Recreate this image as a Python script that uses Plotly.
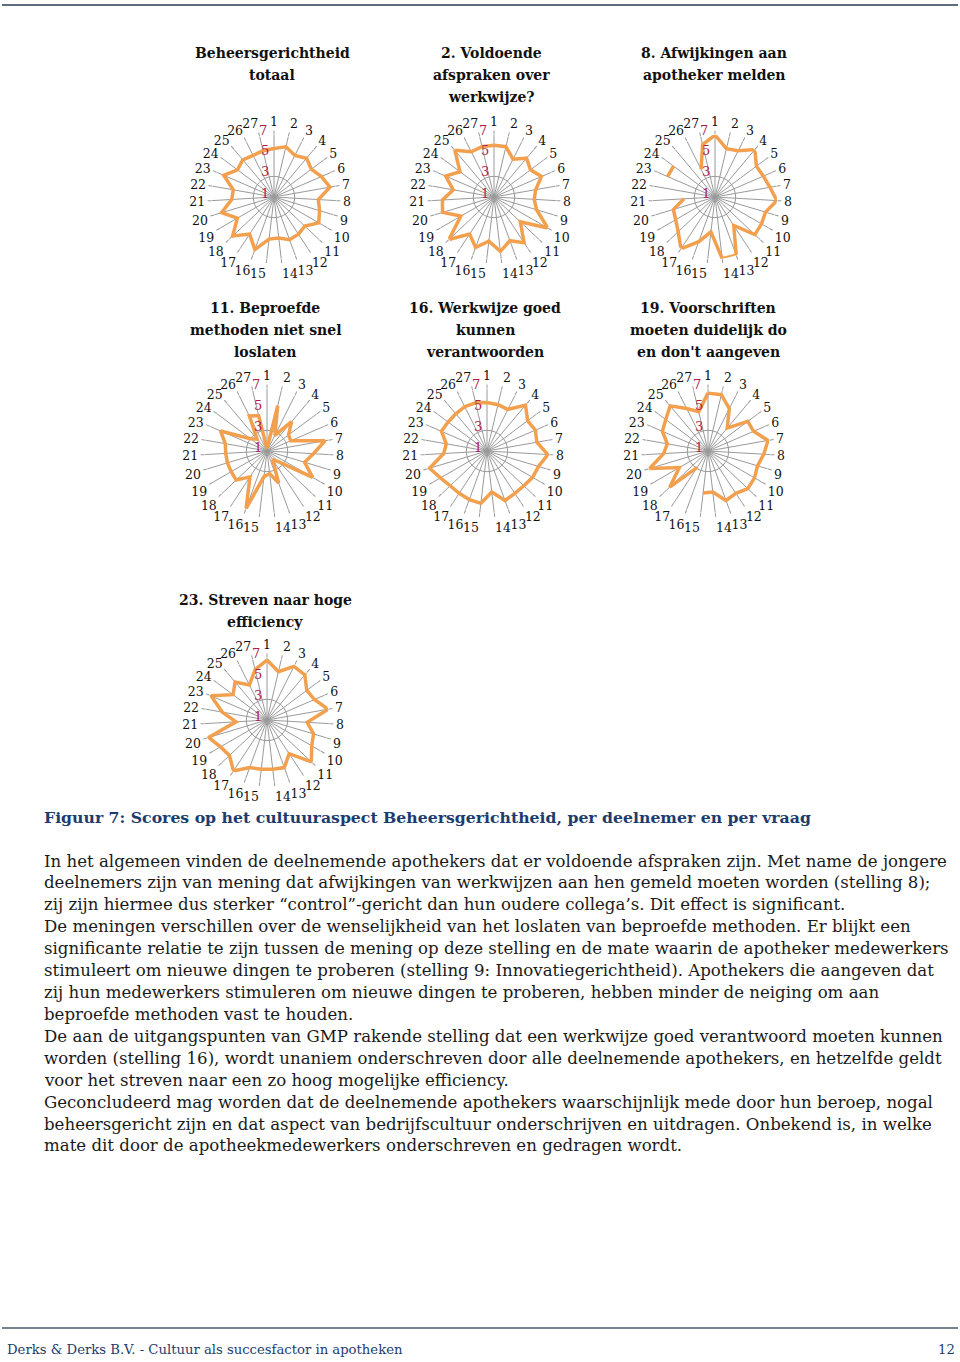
import plotly.graph_objects as go

W, H = 960, 1362

spokes = [str(i) for i in range(1, 28)]
radial_labels = ["1", "3", "5", "7"]

titles = [
    ["Beheersgerichtheid", "totaal"],
    ["2. Voldoende", "afspraken over", "werkwijze?"],
    ["8. Afwijkingen aan", "apotheker melden"],
    ["11. Beproefde", "methoden niet snel", "loslaten"],
    ["16. Werkwijze goed", "kunnen", "verantwoorden"],
    ["19. Voorschriften", "moeten duidelijk do", "en don't aangeven"],
    ["23. Streven naar hoge", "efficiency"],
]

totaal = [5.7, 6.0, 5.5, 5.9, 5.5, 6.0, 6.5, 5.3, 5.6, 6.0, 5.1, 5.3, 5.4, 5.0,
          5.1, 6.4, 5.3, 6.5, 5.1, 6.3, 5.1, 5.0, 6.3, 5.4, 5.7, 5.5, 5.6]
vraag2 = [6.0, 6.0, 5.1, 5.9, 5.4, 6.0, 5.1, 4.9, 5.3, 7.0, 4.5, 6.3, 5.5, 6.3,
          5.3, 6.2, 5.3, 7.0, 4.7, 6.2, 6.0, 5.0, 6.1, 5.1, 6.9, 5.9, 6.0]
vraag8 = [7.0, 5.8, 6.0, 7.0, 6.0, 6.1, 6.4, 7.0, 6.1, 6.2, 6.3, 4.3, 7.0, 7.0,
          4.4, 5.6, 7.0, 5.9, 5.4, 5.2, 4.0, None, 6.0, 6.0, None, 4.0, 6.2]
vraag11 = [1.2, 5.5, 2.7, 4.7, 3.6, 3.5, 6.7, 5.5, 4.8, 6.1, 2.5, 2.0, 4.3, 3.2,
           3.5, 6.9, 4.0, 5.1, 5.0, 5.0, 5.0, 5.1, 5.9, 3.0, 2.5, 4.8, 4.5]
vraag16 = [5.7, 5.6, 5.5, 6.8, 5.9, 6.1, 5.9, 6.9, 6.2, 6.1, 5.9, 5.9, 6.1, 5.0,
           6.1, 6.0, 5.9, 5.9, 6.2, 6.8, 5.2, 5.0, 5.8, 5.7, 5.7, 5.8, 5.8]
vraag19 = [6.6, 6.6, 5.6, 3.9, 5.8, 5.8, 6.9, 6.4, 6.0, 6.2, 6.3, 5.9, 6.1, 5.0,
           5.1, None, 2.9, 6.1, 4.2, 6.9, 5.3, 5.0, 5.8, 6.1, 6.7, 5.6, 4.9]
vraag23 = [6.8, 5.8, 6.8, 6.7, 5.8, 6.0, 7.0, 4.9, 5.7, 6.0, 6.9, 4.9, 5.9, 5.8,
           5.8, 5.9, 6.9, 6.0, 6.2, 6.9, 4.0, 5.4, 6.9, 5.1, 5.8, 4.8, 6.0]

series = [totaal, vraag2, vraag8, vraag11, vraag16, vraag19, vraag23]

caption = "Figuur 7: Scores op het cultuuraspect Beheersgerichtheid, per deelnemer en per vraag"
body = [
    "In het algemeen vinden de deelnemende apothekers dat er voldoende afspraken zijn. Met name de jongere",
    "deelnemers zijn van mening dat afwijkingen van werkwijzen aan hen gemeld moeten worden (stelling 8);",
    "zij zijn hiermee dus sterker \u201ccontrol\u201d-gericht dan hun oudere collega\u2019s. Dit effect is significant.",
    "De meningen verschillen over de wenselijkheid van het loslaten van beproefde methoden. Er blijkt een",
    "significante relatie te zijn tussen de mening op deze stelling en de mate waarin de apotheker medewerkers",
    "stimuleert om nieuwe dingen te proberen (stelling 9: Innovatiegerichtheid). Apothekers die aangeven dat",
    "zij hun medewerkers stimuleren om nieuwe dingen te proberen, hebben minder de neiging om aan",
    "beproefde methoden vast te houden.",
    "De aan de uitgangspunten van GMP rakende stelling dat een werkwijze goed verantwoord moeten kunnen",
    "worden (stelling 16), wordt unaniem onderschreven door alle deelnemende apothekers, en hetzelfde geldt",
    "voor het streven naar een zo hoog mogelijke efficiency.",
    "Geconcludeerd mag worden dat de deelnemende apothekers waarschijnlijk mede door hun beroep, nogal",
    "beheersgericht zijn en dat aspect van bedrijfscultuur onderschrijven en uitdragen. Onbekend is, in welke",
    "mate dit door de apotheekmedewerkers onderschreven en gedragen wordt.",
]
footer_left = "Derks & Derks B.V. - Cultuur als succesfactor in apotheken"
footer_right = "12"

# layout geometry (pixels)
centers = [(274, 197), (494, 197), (715, 197), (267, 451), (487, 451), (708, 451), (267, 720)]
title_cx = [272, 492, 714, 265, 485, 708, 265]
title_y0 = [53, 53, 53, 308, 308, 308, 600]
label_offsets = [(-9, -4), (-9, -25), (-9, -46), (-11, -66)]
R = 62
SERIF = "DejaVu Serif"
ORANGE = "#F2A04E"
RED = "#B01E4A"
GRID = "#9a9a9a"

thetas = [i * 360.0 / 27 for i in range(27)]

fig = go.Figure()
annotations = []

for k, (vals, (cx, cy)) in enumerate(zip(series, centers)):
    pname = "polar" if k == 0 else f"polar{k+1}"
    r_closed = list(vals) + [vals[0]]
    th_closed = thetas + [thetas[0]]
    fig.add_trace(go.Scatterpolar(
        r=r_closed, theta=th_closed, mode="lines", subplot=pname,
        line=dict(color=ORANGE, width=3.5), connectgaps=False,
        hoverinfo="skip", showlegend=False))
    x0, x1 = (cx - R) / W, (cx + R) / W
    y0, y1 = 1 - (cy + R) / H, 1 - (cy - R) / H
    fig.update_layout(**{pname: dict(
        domain=dict(x=[x0, x1], y=[y0, y1]),
        bgcolor="white",
        radialaxis=dict(range=[1, 7], tickvals=[3], showticklabels=False,
                        showline=False, ticks="", gridcolor=GRID, gridwidth=1),
        angularaxis=dict(thetaunit="degrees", rotation=90, direction="clockwise",
                         tickmode="array", tickvals=thetas, ticktext=spokes,
                         showline=False, gridcolor=GRID, gridwidth=1,
                         ticks="outside", ticklen=4, tickcolor=GRID,
                         tickfont=dict(family=SERIF, size=12.5, color="#111")),
    )})
    for lab, (dx, dy) in zip(radial_labels, label_offsets):
        annotations.append(dict(
            x=(cx + dx) / W, y=1 - (cy + dy) / H, xref="paper", yref="paper",
            text=lab, showarrow=False, xanchor="center", yanchor="middle",
            font=dict(family=SERIF, size=13, color=RED)))
    for j, line in enumerate(titles[k]):
        annotations.append(dict(
            x=title_cx[k] / W, y=1 - (title_y0[k] + 22 * j) / H, xref="paper", yref="paper",
            text=f"<b>{line}</b>", showarrow=False, xanchor="center", yanchor="middle",
            font=dict(family=SERIF, size=14, color="#111")))

annotations.append(dict(
    x=42 / W, y=1 - 817 / H, xref="paper", yref="paper", text=f"<b>{caption}</b>",
    showarrow=False, xanchor="left", yanchor="middle",
    font=dict(family=SERIF, size=15.7, color="#1d3c6e")))

for i, line in enumerate(body):
    annotations.append(dict(
        x=42 / W, y=1 - (861 + 21.92 * i) / H, xref="paper", yref="paper", text=line,
        showarrow=False, xanchor="left", yanchor="middle",
        font=dict(family=SERIF, size=16.6, color="#1a1a1a")))

annotations.append(dict(
    x=5 / W, y=1 - 1349 / H, xref="paper", yref="paper", text=footer_left,
    showarrow=False, xanchor="left", yanchor="middle",
    font=dict(family=SERIF, size=13.2, color="#1d3c6e")))
annotations.append(dict(
    x=957 / W, y=1 - 1349 / H, xref="paper", yref="paper", text=footer_right,
    showarrow=False, xanchor="right", yanchor="middle",
    font=dict(family=SERIF, size=13.2, color="#1d3c6e")))

shapes = [
    dict(type="line", xref="paper", yref="paper", x0=2 / W, x1=958 / W,
         y0=1 - 5 / H, y1=1 - 5 / H, line=dict(color="#5d6d7e", width=2)),
    dict(type="line", xref="paper", yref="paper", x0=2 / W, x1=958 / W,
         y0=1 - 1328 / H, y1=1 - 1328 / H, line=dict(color="#4a5a6a", width=1.5)),
]

fig.update_layout(width=W, height=H, margin=dict(l=0, r=0, t=0, b=0),
                  paper_bgcolor="white", plot_bgcolor="white",
                  annotations=annotations, shapes=shapes, showlegend=False)

fig.write_html("out.html", config={"displayModeBar": False},
               post_script="document.body.style.margin='0';document.body.style.overflow='hidden';")
